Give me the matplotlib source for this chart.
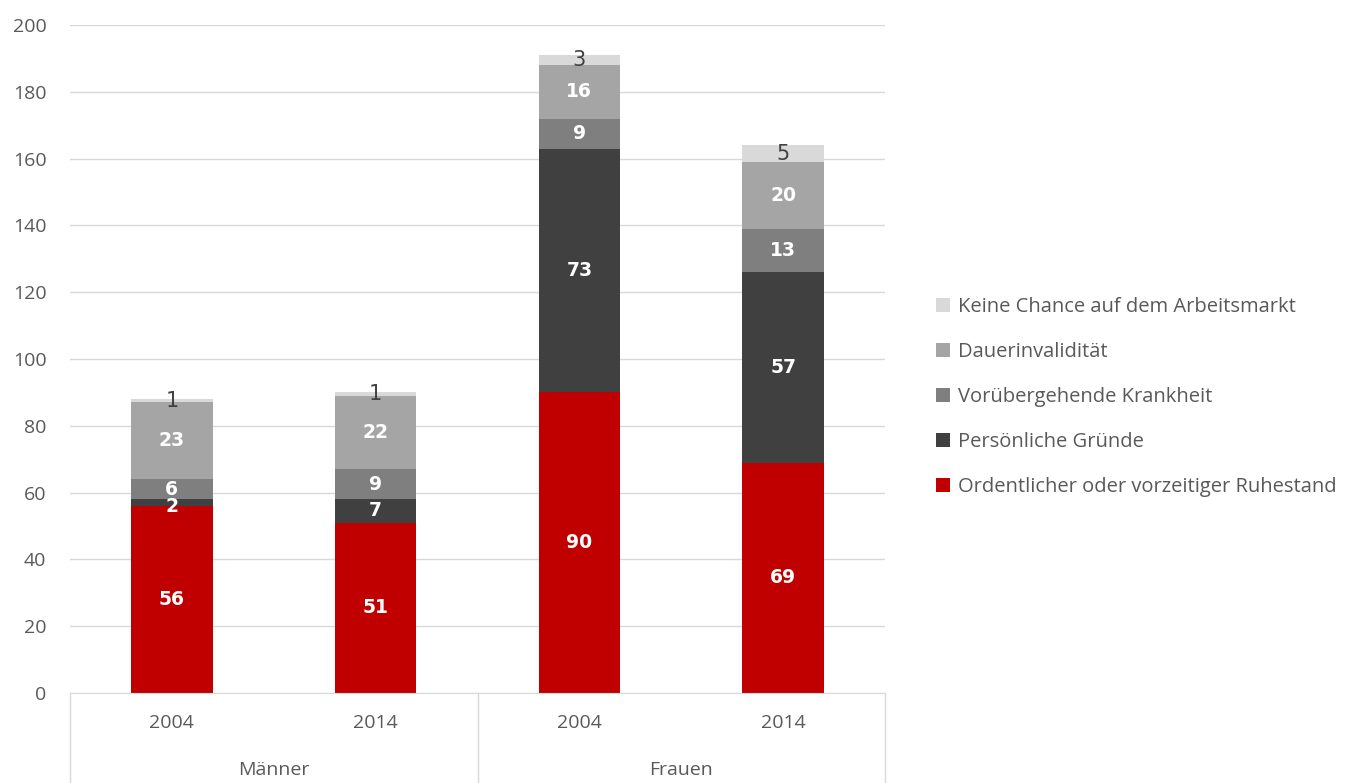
import matplotlib.pyplot as plt
import numpy as np

# data
years = ['2004', '2014', '2004', '2014']
groups = ['Männer', 'Frauen']
series_names = ['Ordentlicher oder vorzeitiger Ruhestand', 'Persönliche Gründe',
                'Vorübergehende Krankheit', 'Dauerinvalidität',
                'Keine Chance auf dem Arbeitsmarkt']
ruhestand = [56, 51, 90, 69]
persoenlich = [2, 7, 73, 57]
krankheit = [6, 9, 9, 13]
invaliditaet = [23, 22, 16, 20]
keine_chance = [1, 1, 3, 5]

colors = ['#C00000', '#404040', '#7F7F7F', '#A5A5A5', '#D9D9D9']
txt = '#595959'

plt.rcParams['font.family'] = ['Open Sans', 'DejaVu Sans']

fig = plt.figure(figsize=(13.45, 7.83), dpi=100)
ax = fig.add_axes([70 / 1345, 1 - 693 / 783, 815 / 1345, 668 / 783])

x = np.arange(len(years))
bottom = np.zeros(len(years))
values = [ruhestand, persoenlich, krankheit, invaliditaet, keine_chance]
handles = []
for i, (vals, name) in enumerate(zip(values, series_names)):
    vals = np.array(vals, dtype=float)
    b = ax.bar(x, vals, 0.4, bottom=bottom, color=colors[i], label=name, zorder=2)
    handles.append(b)
    for xi, v, bt in zip(x, vals, bottom):
        ypos = bt + v / 2
        if i == 1 and v < 3:
            ypos -= 1.2   # small segment: nudge down like the original
        if i == 4:
            ax.text(xi, ypos, '%d' % v, ha='center', va='center',
                    fontsize=15, color='#404040', family='DejaVu Sans', zorder=3)
        else:
            ax.text(xi, ypos, '%d' % v, ha='center', va='center',
                    fontsize=13.5, color='white', fontweight='bold',
                    family='DejaVu Sans', zorder=3)
    bottom += vals

ax.set_xlim(-0.5, 3.5)
ax.set_ylim(0, 200)
ax.set_yticks(np.arange(0, 201, 20))
ax.yaxis.grid(True, color='#D9D9D9', linewidth=1, zorder=0)
ax.set_axisbelow(True)
for s in ['top', 'right', 'left']:
    ax.spines[s].set_visible(False)
ax.spines['bottom'].set_color('#D9D9D9')
ax.tick_params(axis='y', length=0, labelsize=14, labelcolor=txt, pad=17)
ax.set_xticks([])

# two-level category axis
for xi, yr in zip(x, years):
    ax.text(xi, -9, yr, ha='center', va='center', fontsize=14, color=txt)
for gi, g in enumerate(groups):
    ax.text(gi * 2 + 0.5, -23, g, ha='center', va='center', fontsize=14, color=txt)
for xv in [-0.5, 1.5, 3.5]:
    ax.plot([xv, xv], [0, -27], color='#D9D9D9', linewidth=1, clip_on=False)

leg = fig.legend(handles[::-1], series_names[::-1], loc='center left',
                 bbox_to_anchor=(918 / 1345, 1 - 397 / 783), frameon=False,
                 fontsize=14.5, handlelength=0.7, handleheight=0.7,
                 handletextpad=0.4, labelspacing=1.25)
for t in leg.get_texts():
    t.set_color(txt)

fig.savefig('out.png', dpi=100)
